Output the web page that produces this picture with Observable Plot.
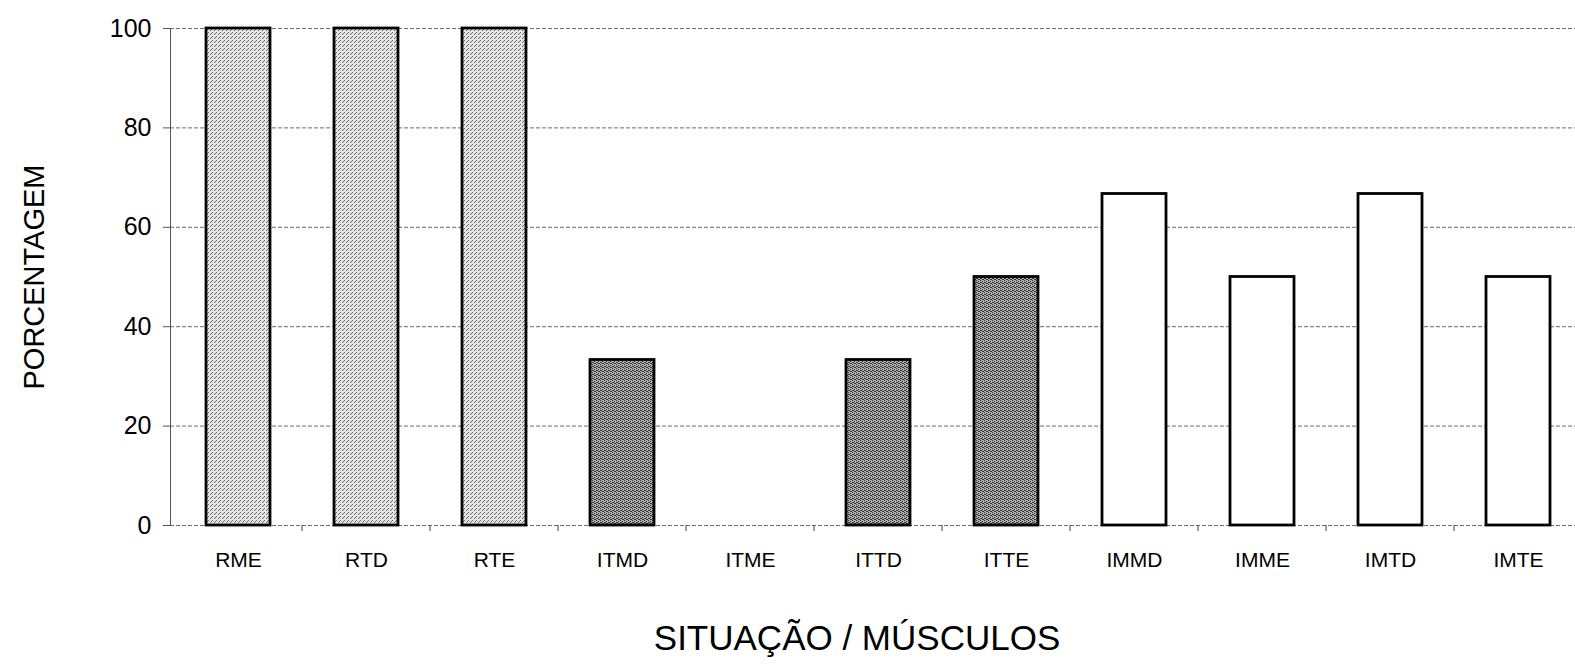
<!DOCTYPE html>
<html>
<head>
<meta charset="utf-8">
<script src="https://cdn.jsdelivr.net/npm/d3@7"></script>
<script src="https://cdn.jsdelivr.net/npm/@observablehq/plot@0.6"></script>
<style>
  html, body { margin: 0; padding: 0; background: #fff; }
  svg { display: block; }
</style>
</head>
<body>
<div id="chart"></div>
<script>
// Percentage per situation / muscle
const categories = ["RME", "RTD", "RTE", "ITMD", "ITME", "ITTD", "ITTE", "IMMD", "IMME", "IMTD", "IMTE"];
const values = [100, 100, 100, 33.3, 0, 33.3, 50, 66.7, 50, 66.7, 50];
const groups = ["R", "R", "R", "IT", "IT", "IT", "IT", "IM", "IM", "IM", "IM"];
const yTicks = [0, 20, 40, 60, 80, 100];

const data = categories.map((c, i) => ({ cat: c, value: values[i], group: groups[i] }));

const ns = "http://www.w3.org/2000/svg";

// Stipple patterns for the bar fills
function patternDefs() {
  const defs = document.createElementNS(ns, "defs");
  const make = (id, bg, dot, dots) => {
    const p = document.createElementNS(ns, "pattern");
    p.setAttribute("id", id);
    p.setAttribute("patternUnits", "userSpaceOnUse");
    p.setAttribute("width", 4);
    p.setAttribute("height", 4);
    const r = document.createElementNS(ns, "rect");
    r.setAttribute("width", 4); r.setAttribute("height", 4); r.setAttribute("fill", bg);
    p.appendChild(r);
    for (const [x, y] of dots) {
      const d = document.createElementNS(ns, "rect");
      d.setAttribute("x", x); d.setAttribute("y", y);
      d.setAttribute("width", 1); d.setAttribute("height", 1);
      d.setAttribute("fill", dot);
      p.appendChild(d);
    }
    defs.appendChild(p);
  };
  make("stippleLight", "#e4e4e4", "#666", [[0, 0], [2, 2], [3, 1]]);
  make("stippleDark", "#b0b0b0", "#333", [[0, 0], [2, 1], [1, 2], [3, 3], [2, 3], [0, 2]]);
  return defs;
}

// Small tick marks between category slots on the baseline
function slotTicks(index, scales) {
  const g = document.createElementNS(ns, "g");
  const x = scales.x, y0 = scales.y(0);
  const step = x(categories[1]) - x(categories[0]);
  categories.slice(1).forEach(c => {
    const xs = x(c) - step * 0.25;
    const l = document.createElementNS(ns, "line");
    l.setAttribute("x1", xs); l.setAttribute("x2", xs);
    l.setAttribute("y1", y0); l.setAttribute("y2", y0 + 6);
    l.setAttribute("stroke", "#444");
    g.appendChild(l);
  });
  return g;
}

const chart = Plot.plot({
  width: 1575,
  height: 664,
  marginTop: 28,
  marginBottom: 139,
  marginLeft: 170,
  marginRight: 0,
  style: { fontFamily: "'Liberation Sans', Arial, sans-serif", background: "#fff", color: "#000" },
  x: { domain: categories, range: [170, 1585], paddingInner: 0.5, paddingOuter: 0.25 },
  y: { domain: [0, 100] },
  marks: [
    patternDefs,
    Plot.gridY(yTicks, { stroke: "#555", strokeOpacity: 0.85, strokeDasharray: "4,2" }),
    Plot.frame({ anchor: "left", stroke: "#555", strokeDasharray: "2,1" }),
    slotTicks,
    Plot.barY(data.filter(d => d.group === "R"), { x: "cat", y: "value", fill: "url(#stippleLight)", stroke: "#000", strokeWidth: 2.8 }),
    Plot.barY(data.filter(d => d.group === "IT" && d.value > 0), { x: "cat", y: "value", fill: "url(#stippleDark)", stroke: "#000", strokeWidth: 2.8 }),
    Plot.barY(data.filter(d => d.group === "IM"), { x: "cat", y: "value", fill: "#fff", stroke: "#000", strokeWidth: 2.8 }),
    Plot.axisY(yTicks, { tickSize: 7, tickPadding: 12, fontSize: 25, stroke: "#555", label: null }),
    Plot.axisX({ tickSize: 0, tickPadding: 27, fontSize: 21, label: null }),
    Plot.text(["PORCENTAGEM"], { frameAnchor: "left", textAnchor: "middle", rotate: -90, dx: -136, fontSize: 29 }),
    Plot.text(["SITUAÇÃO / MÚSCULOS"], { frameAnchor: "bottom", dy: 124, dx: -16, fontSize: 35 })
  ]
});

document.getElementById("chart").appendChild(chart);
</script>
</body>
</html>
